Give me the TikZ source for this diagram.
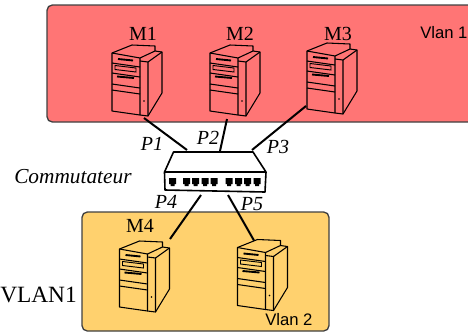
\documentclass[tikz,border=0pt]{standalone}
\usepackage{fontspec}
\setmainfont{Liberation Serif}
\setsansfont{Liberation Sans}
\definecolor{Rouge}{rgb}{1.0,0.46,0.46}
\definecolor{Jaune}{rgb}{1.0,0.82,0.43}
\usetikzlibrary{positioning, calc}

\tikzset{
    vlanbox/.style={draw=black!75, line width=1pt, rounded corners=4pt},
    machine/.style={font=\fontsize{15}{17}\selectfont},
    port/.style={font=\fontsize{15}{17}\selectfont\itshape},
    vlanlabel/.style={font=\fontsize{12.5}{14}\sffamily\selectfont},
    link/.style={line width=1.5pt, black},
    pc/.pic={
        % body
        \draw[line width=0.8pt, line join=round]
            (0,0) -- (20,-8) -- (43,-7) -- (43,-2) -- (50,-1) -- (50,40) -- (36,63) -- (28,62) -- (0,58) -- cycle;
        \draw[line width=0.8pt] (0,0) -- (28,5) -- (28,62);
        \draw[line width=0.8pt] (28,8) -- (36,9) -- (36,63);
        \draw[line width=0.8pt] (28,5) -- (43,-2);
        \draw[line width=0.8pt] (36,9) -- (50,-1);
        % front panel
        \draw[line width=0.8pt] (0,10) -- (28,14);
        \draw[line width=0.8pt] (0,20) -- (28,24);
        \draw[line width=0.8pt] (0,31) -- (28,35);
        \draw[line width=0.8pt] (0,37) -- (28,41);
        \draw[line width=0.7pt] (3,12.5) -- (24,15) -- (24,19) -- (3,16.5) -- cycle;
        \draw[line width=1.4pt] (6,6) -- (21,7.5);
        \draw[line width=1.4pt] (5,23.5) -- (22,25);
        \fill (32,48) circle (0.9);
    }
}

\begin{document}
\begin{tikzpicture}[x=0.75pt,y=-0.75pt]

    \useasboundingbox (0,0) rectangle (468,333);

    % red box
    \filldraw[vlanbox, fill=Rouge] (47,5) rectangle (490,122);

    % yellow box
    \filldraw[vlanbox, fill=Jaune] (82,212) rectangle (329,331);

    % machines
    \pic at (112,53) {pc};
    \pic at (210,53) {pc};
    \pic at (307,51) {pc};
    \pic at (119.5,249) {pc};
    \pic at (237.5,247.5) {pc};

    \node[machine] (M1) at (143,34) {M1};
    \node[machine] (M2) at (240,34) {M2};
    \node[machine] (M3) at (338,34) {M3};
    \node[machine] (M4) at (140,226) {M4};

    % link ends
    \coordinate (pc1) at (144,118);
    \coordinate (pc2) at (227,119);
    \coordinate (pc3) at (306,106);
    \coordinate (pc4) at (170,239);
    \coordinate (pc5) at (254,240.5);
    \coordinate (sw1) at (187,150);
    \coordinate (sw2) at (220,151);
    \coordinate (sw3) at (252,150);
    \coordinate (sw4) at (201,195);
    \coordinate (sw5) at (228,195);

    % links
    \draw[link] (pc1) -- (sw1);
    \draw[link] (pc2) -- (sw2);
    \draw[link] (pc3) -- (sw3);
    \draw[link] (pc4) -- (sw4);
    \draw[link] (pc5) -- (sw5);

    % switch
    \filldraw[draw=black, line width=1.2pt, fill=white, line join=round]
        (173.5,152) -- (253,152) -- (266,172) -- (265,192) -- (165,190) -- (164.5,172) -- cycle;
    \draw[line width=1.2pt] (164.5,172) -- (266,172);
    \foreach \x in {172.5,186.5,195.5,205,214,229,238.5,247.5,257}
        \fill[black] (\x-3.5,178) rectangle (\x+3.5,184) (\x-2,184) rectangle (\x+2,186);

    % labels
    \node[port] (P1) at (152,144) {P1};
    \node[port] (P2) at (208,138) {P2};
    \node[port] (P3) at (278,147) {P3};
    \node[port] (P4) at (166,202) {P4};
    \node[port] (P5) at (252,204) {P5};
    \node[font=\fontsize{16}{18}\selectfont\itshape, anchor=west, inner sep=0pt] (comm) at (14,177) {Commutateur};
    \node[font=\fontsize{17.5}{19}\selectfont, anchor=west, inner sep=0pt] (vlan) at (0,295) {VLAN1};
    \node[vlanlabel, anchor=west, inner sep=0pt] (vlan1) at (420,33) {Vlan 1};
    \node[vlanlabel, anchor=west, inner sep=0pt] (vlan2) at (265,320) {Vlan 2};

\end{tikzpicture}
\end{document}
